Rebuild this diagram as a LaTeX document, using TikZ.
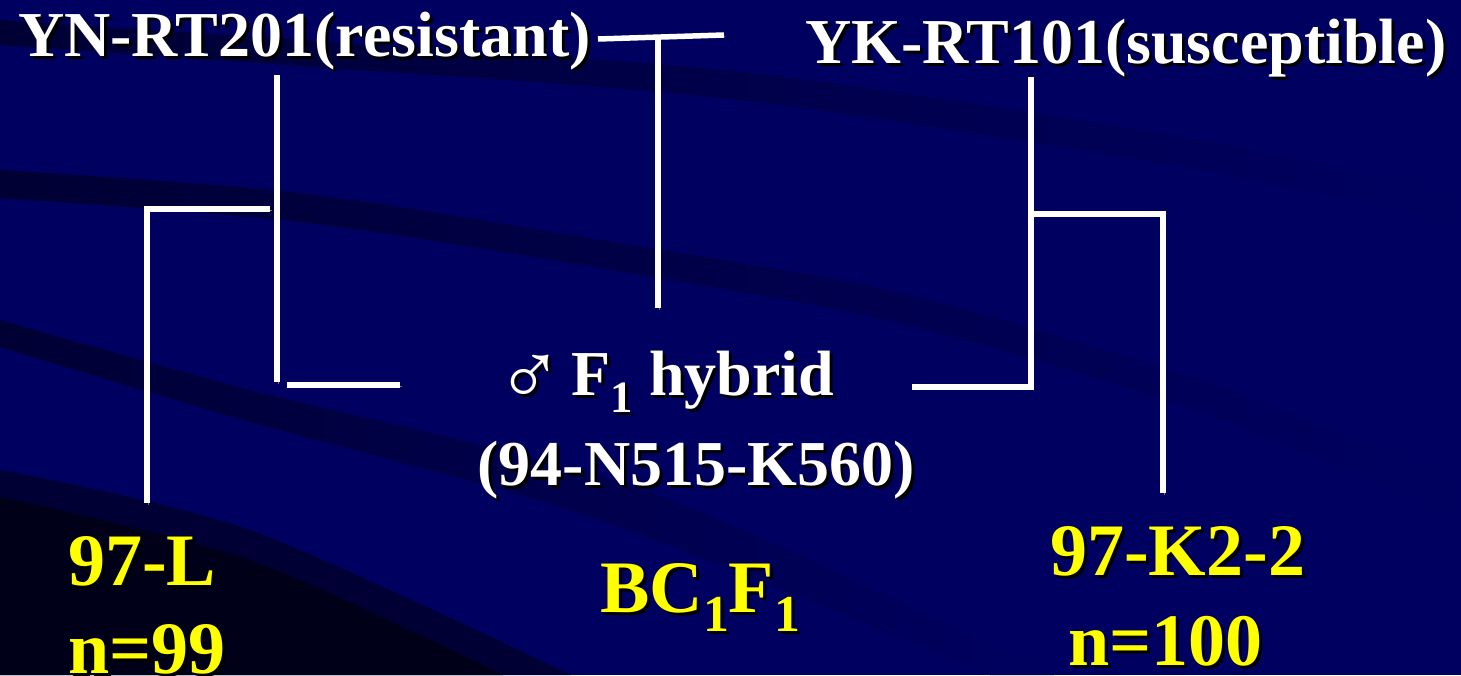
\documentclass[tikz,border=0pt]{standalone}
\usepackage{fontspec}
\setmainfont{Liberation Serif}
\usetikzlibrary{positioning,calc}
\definecolor{slide}{HTML}{000060}
\definecolor{swoosh}{HTML}{000034}
\definecolor{deep}{HTML}{000018}
\definecolor{label}{HTML}{FFFF00}
% text with a drop shadow
\newcommand\shd[1]{\leavevmode\rlap{\kern3pt\raisebox{-3pt}{\color{black}#1}}#1}
\newcommand\lowsub[1]{\raisebox{-0.27em}{\scalebox{0.7}{#1}}}
\newcommand\male{\raisebox{-0.16em}{\scalebox{1.4}{♂}}\hspace{-0.12em}}

\begin{document}
\begin{tikzpicture}[
  x=1pt, y=-1pt,
  parent/.style={text=white, font=\bfseries\fontsize{64}{70}\selectfont, anchor=base west, inner sep=0pt},
  offspring/.style={text=label, font=\bfseries\fontsize{74}{80}\selectfont, anchor=base west, inner sep=0pt},
  link/.style={draw=white, line width=5.5pt, preaction={draw=black!55, transform canvas={shift={(1.5pt,-1.5pt)}}}},
  band/.style={left color=swoosh, right color=slide}
]
% background
\fill[slide] (0,0) rectangle (1461,675);
\useasboundingbox (0,0) rectangle (1461,675);
\shade[band] plot[smooth] coordinates {(0,20) (300,40) (740,72) (1200,140) (1461,197)}
  -- plot[smooth] coordinates {(1461,225) (1200,170) (740,100) (300,66) (0,45)} -- cycle;
\shade[band] plot[smooth] coordinates {(0,170) (300,193) (600,240) (900,293) (1200,380) (1461,480)}
  -- plot[smooth] coordinates {(1461,520) (1200,412) (900,323) (600,268) (300,222) (0,198)} -- cycle;
\shade[band] plot[smooth] coordinates {(0,320) (250,390) (652,493) (1054,675)}
  -- plot[smooth] coordinates {(990,675) (600,520) (250,422) (0,347)} -- cycle;
\fill[swoosh] plot[smooth] coordinates {(0,470) (250,530) (571,675)} -- (0,675) -- cycle;
\fill[deep] plot[smooth] coordinates {(0,497) (250,560) (503,675)} -- (0,675) -- cycle;

% parents and hybrid
\node[parent] (parR) at (18,56) {\shd{YN-RT201(resistant)}};
\node[parent] (parS) at (805,63) {\shd{YK-RT101(susceptible)}};
\node[parent, anchor=base] (hyb) at (665,395) {\shd{\male{} F\lowsub{1} hybrid}};
\node[parent, anchor=base] (hybid) at (696,485) {\shd{(94-N515-K560)}};

% backcross progeny
\node[offspring] (bcL) at (68,585) {\shd{97-L}};
\node[offspring] (nL) at (68,673) {\shd{n=99}};
\node[offspring] (bcF) at (600,612) {\shd{BC\lowsub{1}F\lowsub{1}}};
\node[offspring] (bcK) at (1050,575) {\shd{97-K2-2}};
\node[offspring] (nK) at (1068,665) {\shd{n=100}};

% cross
\coordinate (crossL) at (598,39);
\coordinate (crossR) at (724,35);
\coordinate (crossM) at (658,37);
\coordinate (crossE) at (658,308);
\draw[link] (crossL) -- (crossR);
\draw[link] (crossM) -- (crossE);

% resistant side
\coordinate (resTop) at (277,75);
\coordinate (resBot) at (277,382);
\coordinate (footLa) at (287,385);
\coordinate (footLb) at (400,385);
\coordinate (branchL) at (270,209);
\coordinate (kinL) at (147,209);
\coordinate (kinLend) at (147,503);
\draw[link] (resTop) -- (resBot);
\draw[link] (footLa) -- (footLb);
\draw[link] (branchL) -- (kinL) -- (kinLend);

% susceptible side
\coordinate (susTop) at (1031,77);
\coordinate (susBot) at (1031,387);
\coordinate (footR) at (912,387);
\coordinate (susMid) at (1031,214);
\coordinate (branchR) at (1163,214);
\coordinate (kinRend) at (1163,493);
\draw[link] (susTop) -- (susBot) -- (footR);
\draw[link] (susMid) -- (branchR) -- (kinRend);
\end{tikzpicture}
\end{document}
